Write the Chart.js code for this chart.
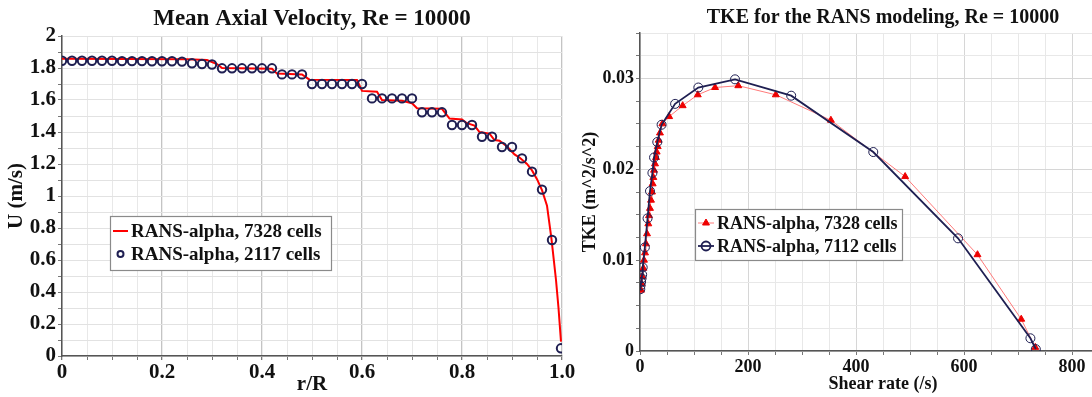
<!DOCTYPE html>
<html>
<head>
<meta charset="utf-8">
<script src="https://cdn.jsdelivr.net/npm/chart.js@4.4.1/dist/chart.umd.min.js"></script>
<style>
  html, body { margin: 0; padding: 0; background: #fff; overflow: hidden; width: 1092px; height: 397px; }
  .box { position: absolute; top: 0; height: 397px; }
  #leftBox { left: 0; width: 580px; }
  #rightBox { left: 580px; width: 560px; }
</style>
</head>
<body>
<div class="box" id="leftBox"><canvas id="velChart"></canvas></div>
<div class="box" id="rightBox"><canvas id="tkeChart"></canvas></div>
<script>
// Mean axial velocity, fine mesh (7328 cells) - red line
const RED_R = [0, 0.25, 0.29, 0.31, 0.32, 0.42, 0.43, 0.48, 0.495, 0.59, 0.60, 0.63, 0.64, 0.68, 0.70, 0.71, 0.76, 0.775, 0.80, 0.81, 0.825, 0.835, 0.855, 0.865, 0.875, 0.89, 0.905, 0.915, 0.93, 0.94, 0.95, 0.96, 0.97, 0.979, 0.988, 0.993, 0.998];
const RED_U = [1.858, 1.855, 1.85, 1.825, 1.80, 1.795, 1.765, 1.76, 1.727, 1.725, 1.657, 1.652, 1.60, 1.595, 1.58, 1.548, 1.545, 1.484, 1.478, 1.455, 1.44, 1.40, 1.39, 1.35, 1.345, 1.31, 1.26, 1.24, 1.20, 1.16, 1.105, 1.037, 0.94, 0.73, 0.475, 0.30, 0.09];
// coarse mesh (2117 cells) - circles
const CIRC_R = [0, 0.02, 0.04, 0.06, 0.08, 0.10, 0.12, 0.14, 0.16, 0.18, 0.20, 0.22, 0.24, 0.26, 0.28, 0.30, 0.32, 0.34, 0.36, 0.38, 0.40, 0.42, 0.44, 0.46, 0.48, 0.50, 0.52, 0.54, 0.56, 0.58, 0.60, 0.62, 0.64, 0.66, 0.68, 0.70, 0.72, 0.74, 0.76, 0.78, 0.80, 0.82, 0.84, 0.86, 0.88, 0.90, 0.92, 0.94, 0.96, 0.98, 0.998];
const CIRC_U = [1.845, 1.845, 1.845, 1.845, 1.845, 1.845, 1.843, 1.843, 1.843, 1.842, 1.842, 1.842, 1.84, 1.83, 1.825, 1.822, 1.798, 1.798, 1.798, 1.798, 1.798, 1.798, 1.76, 1.76, 1.76, 1.70, 1.70, 1.70, 1.70, 1.70, 1.70, 1.61, 1.61, 1.61, 1.61, 1.61, 1.523, 1.523, 1.523, 1.444, 1.444, 1.444, 1.37, 1.37, 1.306, 1.306, 1.235, 1.152, 1.04, 0.725, 0.048];

// TKE vs shear rate
const TRI_S = [1.9, 3.1, 4.3, 6.2, 7.4, 9.3, 11.1, 13, 15.4, 16.7, 18.5, 20.4, 22.2, 23.5, 24.7, 26, 27.8, 29.7, 30.9, 32.8, 34.6, 37, 41.4, 54, 79, 107, 139, 182, 251.5, 353.5, 491, 625, 706, 732];
const TRI_K = [0.0067, 0.0074, 0.0082, 0.0091, 0.0100, 0.0108, 0.0118, 0.0129, 0.0140, 0.0149, 0.0157, 0.0166, 0.0175, 0.0184, 0.0191, 0.0199, 0.0206, 0.0213, 0.0219, 0.0225, 0.0232, 0.0240, 0.0250, 0.0258, 0.0270, 0.0282, 0.0290, 0.0292, 0.0282, 0.0254, 0.0192, 0.0106, 0.0035, 0.0004];
const NAVY_S = [0.5, 1, 2, 3, 4, 5, 9, 14, 18.5, 23, 26, 32, 40, 65, 108, 176, 280, 432, 589, 723, 733];
const NAVY_K = [0.0068, 0.0072, 0.0076, 0.0080, 0.0084, 0.0092, 0.0114, 0.0146, 0.0176, 0.0196, 0.0213, 0.0230, 0.0249, 0.0272, 0.0290, 0.0299, 0.0281, 0.0219, 0.0124, 0.0014, 0.0002];

const LEGEND_LEFT = ['RANS-alpha, 7328 cells', 'RANS-alpha, 2117 cells'];
const LEGEND_RIGHT = ['RANS-alpha, 7328 cells', 'RANS-alpha, 7112 cells'];

const NAVY = '#1f1f52';
const SERIF = "'Liberation Serif', 'Times New Roman', serif";

function pts(xs, ys) { return xs.map((x, i) => ({ x: x, y: ys[i] })); }

// legend drawn inside the plot, boxed
const boxLegend = {
  id: 'boxLegend',
  afterDatasetsDraw(chart, args, o) {
    const ctx = chart.ctx;
    ctx.save();
    ctx.fillStyle = '#fff';
    ctx.fillRect(o.x, o.y, o.w, o.h);
    ctx.strokeStyle = '#8a8a8a';
    ctx.lineWidth = 1.2;
    ctx.strokeRect(o.x + 0.5, o.y + 0.5, o.w, o.h);
    ctx.font = 'bold ' + o.size + 'px ' + SERIF;
    ctx.textBaseline = 'middle';
    chart.data.datasets.forEach((ds, i) => {
      const cy = o.y + o.top + i * o.row;
      const x0 = o.x + 3, x1 = x0 + o.line;
      if (ds.showLine !== false) {
        ctx.strokeStyle = ds.borderColor;
        ctx.lineWidth = ds.borderWidth;
        ctx.beginPath(); ctx.moveTo(x0, cy); ctx.lineTo(x1, cy); ctx.stroke();
      }
      if (ds.legendRadius) {
        ctx.fillStyle = ds.pointBackgroundColor;
        ctx.strokeStyle = ds.pointBorderColor;
        Chart.helpers.drawPoint(ctx, { pointStyle: ds.pointStyle, rotation: 0, radius: ds.legendRadius, borderWidth: ds.legendBorder || 1 }, (x0 + x1) / 2, cy);
      }
      ctx.fillStyle = '#111';
      ctx.fillText(ds.label, x1 + 3, cy + 1);
    });
    ctx.restore();
  }
};

function gridColor(isMajor, major, minor) {
  return c => (c.tick && isMajor(c.tick.value)) ? major : minor;
}

new Chart(document.getElementById('velChart'), {
  type: 'scatter',
  data: {
    datasets: [{
      label: LEGEND_LEFT[0],
      data: pts(RED_R, RED_U),
      showLine: true,
      borderColor: '#ff0000',
      borderWidth: 2,
      pointRadius: 0,
      order: 1
    }, {
      label: LEGEND_LEFT[1],
      data: pts(CIRC_R, CIRC_U),
      showLine: false,
      pointStyle: 'circle',
      pointRadius: 4.2,
      pointBorderWidth: 2,
      pointBorderColor: NAVY,
      pointBackgroundColor: 'rgba(0,0,0,0)',
      legendRadius: 3,
      legendBorder: 1.5,
      order: 0
    }]
  },
  options: {
    responsive: true,
    maintainAspectRatio: false,
    animation: false,
    layout: { padding: { left: 0, right: 18, top: 0, bottom: 0 } },
    plugins: {
      legend: { display: false },
      tooltip: { enabled: false },
      title: {
        display: true, fullSize: false,
        text: 'Mean Axial Velocity, Re = 10000',
        color: '#111',
        font: { family: SERIF, size: 23, weight: 'bold' },
        padding: { top: 5, bottom: 3.4 }
      },
      boxLegend: { x: 110, y: 216, w: 221, h: 54, top: 15, row: 23, line: 15, size: 19 }
    },
    scales: {
      x: {
        type: 'linear', min: 0, max: 1,
        afterFit: s => { s.height = 41; },
        ticks: {
          stepSize: 0.05, autoSkip: false, maxRotation: 0, padding: 0,
          color: '#111', font: { family: SERIF, size: 21, weight: 'bold' },
          callback: v => Math.round(v * 100) % 20 === 0 ? (v === 0 ? '0' : v.toFixed(1)) : ''
        },
        grid: {
          color: gridColor(v => Math.round(v * 100) % 20 === 0, '#c4c4c4', '#e8e8e8'),
          lineWidth: c => (c.tick && Math.round(c.tick.value * 100) % 20 === 0) ? 1.3 : 1,
          tickLength: 4, tickColor: '#777'
        },
        border: { color: '#555', width: 1.5 },
        title: { display: true, text: 'r/R', color: '#111', font: { family: SERIF, size: 21, weight: 'bold' }, padding: { top: 0, bottom: 0 } }
      },
      y: {
        type: 'linear', min: 0, max: 2,
        afterFit: s => { s.width = 62; },
        ticks: {
          stepSize: 0.1, autoSkip: false, padding: 2,
          color: '#111', font: { family: SERIF, size: 21, weight: 'bold' },
          callback: v => Math.round(v * 10) % 2 === 0 ? String(Number(v.toFixed(1))) : ''
        },
        grid: { color: '#e2e2e2', tickLength: 4, tickColor: '#777' },
        border: { color: '#555', width: 1.5 },
        title: { display: true, text: 'U (m/s)', color: '#111', font: { family: SERIF, size: 21, weight: 'bold' }, padding: { top: 4, bottom: 0 } }
      }
    }
  },
  plugins: [boxLegend]
});

new Chart(document.getElementById('tkeChart'), {
  type: 'scatter',
  data: {
    datasets: [{
      label: LEGEND_RIGHT[0],
      data: pts(TRI_S, TRI_K),
      showLine: true,
      borderColor: '#ff7a7a',
      borderWidth: 1,
      pointStyle: 'triangle',
      pointRadius: 4,
      pointBorderWidth: 1,
      pointBorderColor: '#ee0000',
      pointBackgroundColor: '#ee0000',
      legendRadius: 4,
      order: 1
    }, {
      label: LEGEND_RIGHT[1],
      data: pts(NAVY_S, NAVY_K),
      showLine: true,
      borderColor: NAVY,
      borderWidth: 1.8,
      pointStyle: 'circle',
      pointRadius: 4.5,
      pointBorderWidth: 1,
      pointBorderColor: NAVY,
      pointBackgroundColor: 'rgba(0,0,0,0)',
      legendRadius: 4.5,
      order: 0
    }]
  },
  options: {
    responsive: true,
    maintainAspectRatio: false,
    animation: false,
    layout: { padding: { left: 0, right: 14, top: 0, bottom: 0 } },
    plugins: {
      legend: { display: false },
      tooltip: { enabled: false },
      title: {
        display: true, fullSize: false,
        text: 'TKE for the RANS modeling, Re = 10000',
        color: '#111',
        font: { family: SERIF, size: 20, weight: 'bold' },
        padding: { top: 6, bottom: 3 }
      },
      boxLegend: { x: 115, y: 209, w: 207, h: 51, top: 14, row: 23, line: 16, size: 18 }
    },
    scales: {
      x: {
        type: 'linear', min: 0, max: 900,
        afterFit: s => { s.height = 46; },
        ticks: {
          stepSize: 50, autoSkip: false, maxRotation: 0, padding: 2,
          color: '#111', font: { family: SERIF, size: 18, weight: 'bold' },
          callback: v => Math.round(v) % 200 === 0 ? String(v) : ''
        },
        grid: {
          color: gridColor(v => Math.round(v) % 200 === 0, '#d6d6d6', '#e8e8e8'),
          tickLength: 4, tickColor: '#777'
        },
        border: { color: '#555', width: 1.5 },
        title: { display: true, text: 'Shear rate (/s)', color: '#111', font: { family: SERIF, size: 18, weight: 'bold' }, padding: { top: 0, bottom: 2 } }
      },
      y: {
        type: 'linear', min: 0, max: 0.035,
        afterFit: s => { s.width = 60; },
        ticks: {
          stepSize: 0.0025, autoSkip: false, padding: 2,
          color: '#111', font: { family: SERIF, size: 18, weight: 'bold' },
          callback: v => Math.round(v * 10000) % 100 === 0 ? (v === 0 ? '0' : v.toFixed(2)) : ''
        },
        grid: {
          color: gridColor(v => Math.round(v * 10000) % 100 === 0, '#d6d6d6', '#e8e8e8'),
          tickLength: 4, tickColor: '#777'
        },
        border: { color: '#555', width: 1.5 },
        title: { display: true, text: 'TKE (m^2/s^2)', color: '#111', font: { family: SERIF, size: 18, weight: 'bold' }, padding: { top: 0, bottom: 0 } }
      }
    }
  },
  plugins: [boxLegend]
});
</script>
</body>
</html>
